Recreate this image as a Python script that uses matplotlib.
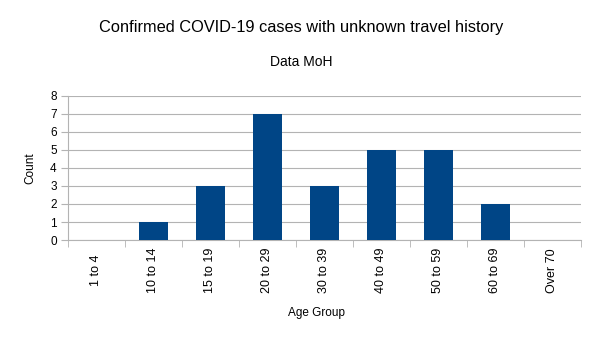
import matplotlib
matplotlib.use("Agg")
import matplotlib.pyplot as plt
import numpy as np

# Données
age_groups = ["1 to 4", "10 to 14", "15 to 19", "20 to 29", "30 to 39",
              "40 to 49", "50 to 59", "60 to 69", "Over 70"]
counts = [0, 1, 3, 7, 3, 5, 5, 2, 0]

plt.rcParams['font.family'] = ['Liberation Sans', 'DejaVu Sans']

fig = plt.figure(figsize=(6.05, 3.4), dpi=100)
ax = fig.add_axes([0.112, 0.294, 0.848, 0.424])

x = np.arange(len(age_groups))
ax.bar(x, counts, width=0.5, color='#004586', zorder=3)

ax.set_xlim(-0.5, len(age_groups) - 0.5)
ax.set_ylim(0, 8)
ax.set_yticks(range(0, 9))

# Graduations aux limites des catégories, étiquettes centrées verticalement
ax.set_xticks(x)
ax.set_xticklabels(age_groups, rotation=90, fontsize=9, va='center')
ax.set_xticks(np.arange(-0.5, len(age_groups)), minor=True)
ax.tick_params(axis='x', which='major', length=0, pad=22)
ax.tick_params(axis='x', which='minor', length=5, color='#b3b3b3')
ax.tick_params(axis='y', length=5, color='#b3b3b3', labelsize=8.5, pad=3)

ax.yaxis.grid(True, color='#b3b3b3', linewidth=0.8, zorder=0)
for s in ['top', 'right']:
    ax.spines[s].set_visible(False)
for s in ['left', 'bottom']:
    ax.spines[s].set_color('#b3b3b3')

ax.set_ylabel('Count', fontsize=8.5, labelpad=10)

fig.text(316 / 605, 1 - 313 / 340, 'Age Group', ha='center', va='center', fontsize=8.5)
fig.text(0.4985, 0.92, 'Confirmed COVID-19 cases with unknown travel history',
         ha='center', va='center', fontsize=11.8)
fig.text(0.4985, 0.817, 'Data MoH', ha='center', va='center', fontsize=10)

fig.savefig('out.png', dpi=100)
